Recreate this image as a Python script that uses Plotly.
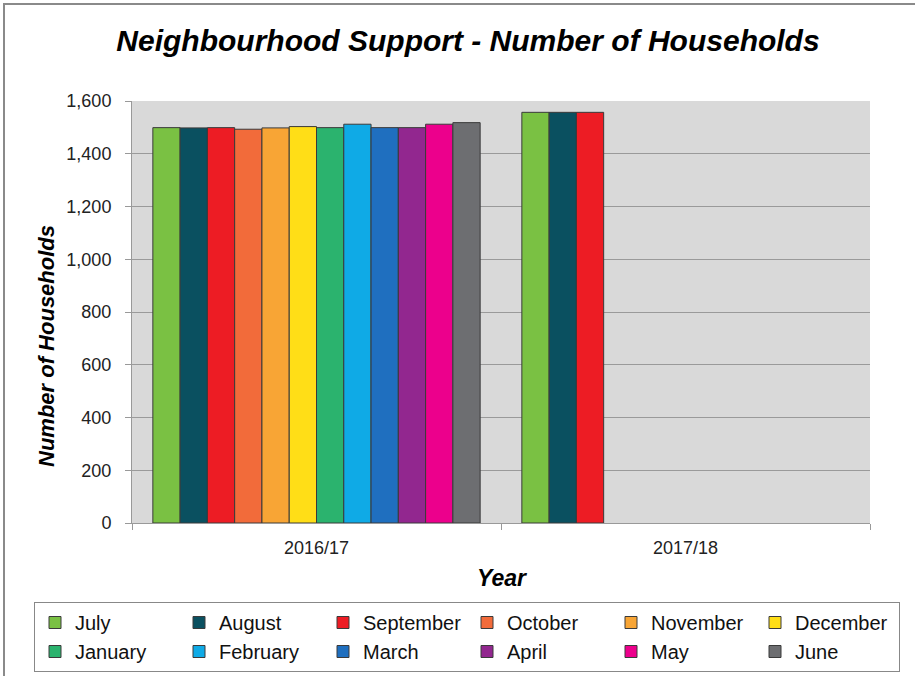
import plotly.graph_objects as go

years = ["2016/17", "2017/18"]
months = ["July", "August", "September", "October", "November", "December",
          "January", "February", "March", "April", "May", "June"]
values_2016_17 = [1499, 1498, 1499, 1493, 1498, 1503, 1499, 1512, 1499, 1499, 1512, 1518]
values_2017_18 = [1557, 1557, 1557, None, None, None, None, None, None, None, None, None]
colors = ["#7AC143", "#0A5060", "#ED1C24", "#F26B3A", "#F8A535", "#FFDE17",
          "#2BB36E", "#0FAAE6", "#1F6FBF", "#92278F", "#EC008C", "#6D6E71"]
y_ticks = [0, 200, 400, 600, 800, 1000, 1200, 1400, 1600]

W, H = 915, 676
L, R, T, B = 132, 45, 101, 153
pw, ph = W - L - R, H - T - B

def px_x(p):
    return (p - L) / pw

def px_y(p):
    return (H - B - p) / ph

FONT = "Liberation Sans, Arial, sans-serif"

fig = go.Figure()
for i, m in enumerate(months):
    fig.add_trace(go.Bar(
        x=years, y=[values_2016_17[i], values_2017_18[i]], name=m,
        marker=dict(color=colors[i], line=dict(color="#3a3a3a", width=1)),
    ))

fig.update_layout(
    width=W, height=H,
    margin=dict(l=L, r=R, t=T, b=B, autoexpand=False),
    paper_bgcolor="white", plot_bgcolor="#D9D9D9",
    barmode="group", bargap=0.113, bargroupgap=0,
    font=dict(family=FONT, color="#222"),
    title=dict(text="<b><i>Neighbourhood Support - Number of Households</i></b>",
               font=dict(size=30, color="black", family=FONT),
               x=px_x(468), xref="paper", xanchor="center",
               y=1 - 40 / H, yref="container", yanchor="middle"),
    showlegend=True,
    legend=dict(orientation="h", x=px_x(34), xanchor="left", y=px_y(602), yanchor="top",
                entrywidth=99, entrywidthmode="pixels",
                bordercolor="#888", borderwidth=1, bgcolor="white",
                font=dict(size=20, color="#111", family=FONT),
                itemclick=False, traceorder="normal"),
)

fig.update_xaxes(
    type="category", showgrid=False, showline=True, linecolor="#999", linewidth=1,
    ticks="outside", tickson="boundaries", ticklen=6, tickcolor="#999",
    ticklabelstandoff=8,
    tickfont=dict(size=18, color="#222"), mirror=False,
)
fig.update_yaxes(
    range=[0, 1600], tickvals=y_ticks, tickformat=",", showgrid=True,
    gridcolor="#9a9a9a", gridwidth=1, showline=True, linecolor="#999",
    ticks="outside", ticklen=6, tickcolor="#999", ticklabelstandoff=10,
    tickfont=dict(size=18, color="#222"), zeroline=False,
)

fig.add_annotation(text="<b><i>Year</i></b>", x=px_x(502), y=px_y(578), xref="paper", yref="paper",
                   xanchor="center", yanchor="middle",
                   showarrow=False, font=dict(size=23, color="black", family=FONT))
fig.add_annotation(text="<b><i>Number of Households</i></b>", x=px_x(46), y=px_y(346),
                   xref="paper", yref="paper", textangle=-90, xanchor="center", yanchor="middle",
                   showarrow=False, font=dict(size=22, color="black", family=FONT))

fig.add_shape(type="rect", xref="paper", yref="paper",
              x0=px_x(4), x1=px_x(980), y0=px_y(740), y1=px_y(4),
              line=dict(color="#8a8a8a", width=2), fillcolor="rgba(0,0,0,0)", layer="above")

fig.write_html("out.html")
